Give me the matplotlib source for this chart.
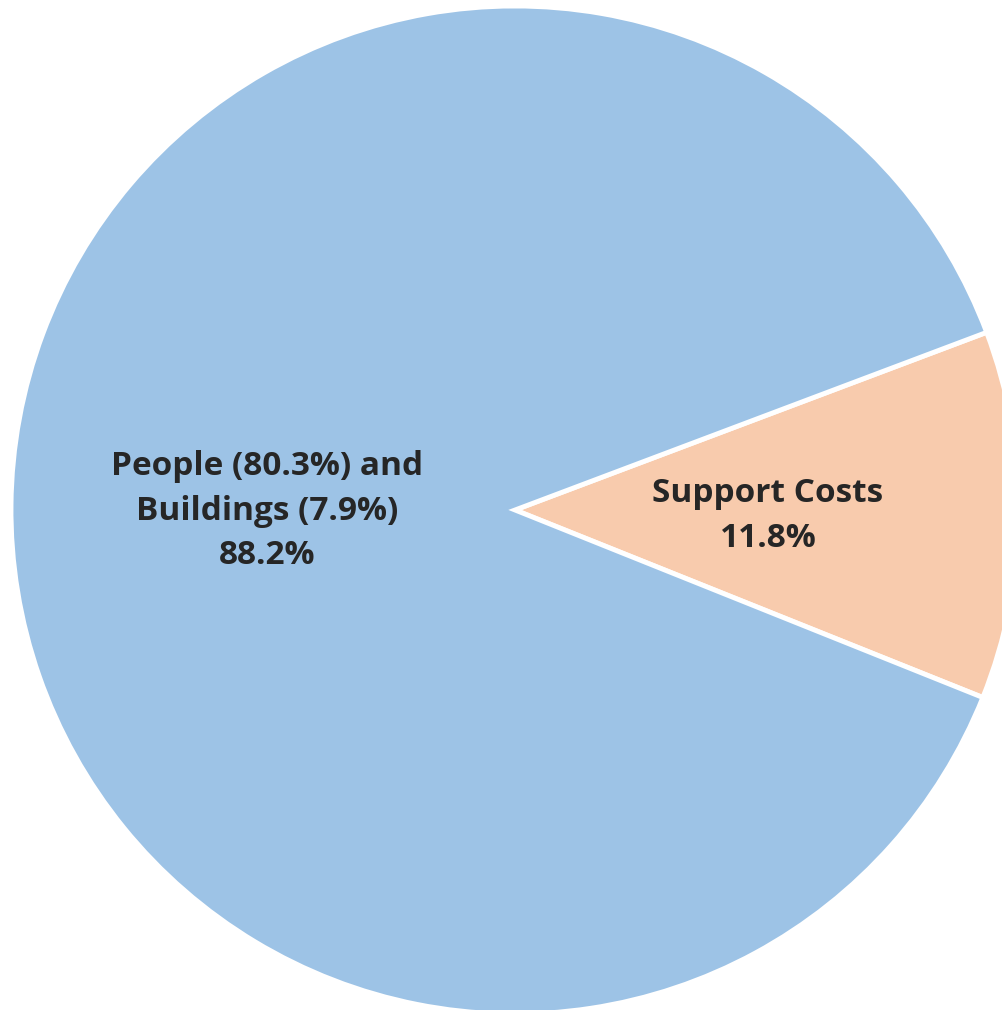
import matplotlib
matplotlib.use("Agg")
import matplotlib.pyplot as plt

categories = ["Support Costs", "People (80.3%) and\nBuildings (7.9%)"]
values = [11.8, 88.2]
colors = ["#F8CBAD", "#9DC3E6"]

fig = plt.figure(figsize=(10.03, 10.10), dpi=100)
ax = fig.add_axes([0, 0, 1, 1])
cx, cy, r = 515, 500, 504
start = -values[0] / 100 * 360 / 2 - 0.6
ax.pie(values, colors=colors, startangle=start, counterclock=True,
       center=(cx, cy), radius=r,
       wedgeprops=dict(edgecolor="white", linewidth=3.5))
ax.set_xlim(0, 1003)
ax.set_ylim(0, 1010)
ax.set_aspect("equal")
ax.axis("off")

fkw = dict(fontsize=24, fontweight="bold", color="#262626", family=["Open Sans", "DejaVu Sans"],
           ha="center", va="center", linespacing=1.45)
ax.text(267, 499, f"{categories[1]}\n{values[1]}%", **fkw)
ax.text(768, 494, f"{categories[0]}\n{values[0]}%", **fkw)

fig.savefig("out.png", dpi=100)
